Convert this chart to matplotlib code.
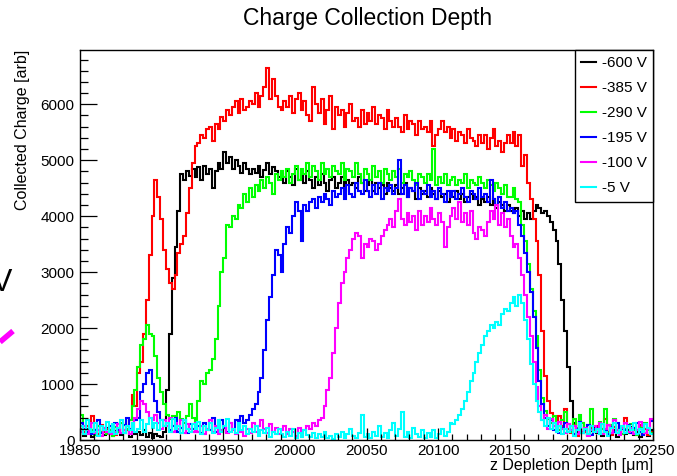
import numpy as np
import matplotlib
matplotlib.use("Agg")
import matplotlib.pyplot as plt
from matplotlib.lines import Line2D

plt.rcParams['font.family'] = ['Liberation Sans', 'DejaVu Sans']

# Histogram binning along the depth axis (2 um bins)
x_min, x_max, bin_width = 19850, 20250, 2
bin_edges = np.arange(x_min, x_max + bin_width, bin_width)

bias_labels = ["-600 V", "-385 V", "-290 V", "-195 V", "-100 V", "-5 V"]
bias_colors = ["#000000", "#ff0000", "#00ff00", "#0000ff", "#ff00ff", "#00ffff"]

charge_600V = [
    150, 80, 200, 120, 60, 180, 100, 140, 90, 210,
    120, 70, 160, 200, 90, 130, 180, 60, 150, 110,
    140, 90, 170, 60, 120, 40, 100, 80, 60, 150,
    900, 1900, 2900, 3450, 4100, 4750, 4650, 4800, 4720, 4850,
    4700, 4880, 4650, 4900, 4750, 4850, 4500, 4800, 4950, 4850,
    5150, 4950, 5050, 4850, 5000, 4900, 4780, 4950, 4850, 4750,
    4850, 4780, 4900, 4700, 4820, 4950, 4750, 4880, 4800, 4700,
    4750, 4600, 4800, 4700, 4550, 4850, 4650, 4750, 4600, 4800,
    4650, 4500, 4700, 4550, 4750, 4600, 4450, 4650, 4700, 4500,
    4600, 4700, 4450, 4650, 4550, 4600, 4500, 4700, 4600, 4450,
    4550, 4650, 4450, 4600, 4500, 4550, 4400, 4600, 4500, 4450,
    4550, 4400, 4500, 4600, 4350, 4500, 4450, 4300, 4500, 4400,
    4450, 4350, 4500, 4400, 4300, 4450, 4350, 4400, 4250, 4400,
    4350, 4450, 4300, 4400, 4250, 4350, 4400, 4300, 4350, 4200,
    4300, 4250, 4350, 4200, 4300, 4150, 4250, 4200, 4100, 4200,
    4100, 4050, 4150, 4000, 4100, 3950, 4050, 3950, 4100, 4200,
    4150, 4050, 4100, 4000, 3900, 3750, 3550, 3150, 2500, 1950,
    1300, 700, 300, 150, 250, 120, 200, 90, 160, 230,
    120, 200, 80, 150, 260, 100, 180, 60, 140, 220,
    100, 170, 240, 90, 150, 60, 200, 130, 80, 170,
]

charge_385V = [
    200, 150, 250, 120, 420, 180, 100, 260, 150, 200,
    140, 230, 90, 180, 300, 260, 180, 350, 800, 600,
    1200, 1400, 1900, 2500, 3300, 4000, 4650, 4350, 3950, 3400,
    3050, 2800, 2700, 2950, 3350, 3500, 3650, 4050, 4500, 4950,
    5250, 5300, 5450, 5400, 5550, 5600, 5350, 5650, 5550, 5780,
    5700, 5900, 5800, 5950, 6050, 5850, 6100, 5900, 5950, 6050,
    6000, 6200, 5950, 6150, 6300, 6650, 6100, 6450, 6150, 5950,
    5900, 6050, 5950, 6150, 5850, 6100, 6200, 5900, 6050, 5800,
    5700, 6300, 6000, 5850, 6100, 5650, 5900, 6150, 5550, 5950,
    5800, 5900, 5600, 5850, 6000, 5700, 5750, 5600, 5900, 5650,
    5850, 5700, 5950, 5650, 5800, 5750, 5550, 5900, 5700, 5600,
    5750, 5600, 5500, 5800, 5550, 5700, 5650, 5450, 5700, 5550,
    5600, 5500, 5700, 5250, 5450, 5550, 5700, 5500, 5600, 5400,
    5550, 5350, 5500, 5450, 5300, 5550, 5400, 5350, 5250, 5450,
    5300, 5450, 5200, 5400, 5550, 5250, 5350, 5150, 5300, 5450,
    5300, 5500, 5250, 5450, 4900, 5100, 4600, 4300, 3950, 3550,
    2950, 1950, 1150, 700, 480, 300, 200, 420, 250, 550,
    200, 120, 260, 80, 180, 300, 140, 90, 220, 160,
    250, 110, 190, 380, 140, 90, 230, 170, 120, 200,
    390, 150, 220, 100, 180, 260, 130, 200, 90, 150,
]

charge_290V = [
    450, 200, 120, 300, 180, 90, 250, 140, 200, 110,
    170, 80, 230, 150, 300, 120, 200, 350, 600, 900,
    1300, 1700, 1800, 2050, 1900, 1850, 1500, 1100, 850, 650,
    450, 380, 420, 350, 500, 380, 300, 420, 650, 400,
    300, 700, 1050, 1000, 1200, 1250, 1450, 1800, 2400, 3000,
    3250, 3850, 3800, 4000, 3950, 4200, 4150, 4400, 4250, 4500,
    4350, 4550, 4450, 4650, 4500, 4700, 4600, 4400, 4750, 4650,
    4800, 4700, 4850, 4600, 4750, 4900, 4650, 4850, 4750, 4950,
    4700, 4900, 4800, 4650, 4950, 4750, 4850, 4700, 4900, 4800,
    4750, 4950, 4650, 4850, 4800, 4700, 4950, 4750, 4600, 4850,
    4750, 4650, 4900, 4700, 4800, 4600, 4850, 4750, 4650, 4800,
    4700, 4850, 4600, 4750, 4700, 4800, 4650, 4550, 4750, 4700,
    4600, 4750, 4650, 5200, 4550, 4700, 4600, 4750, 4550, 4650,
    4700, 4550, 4650, 4600, 4750, 4500, 4650, 4600, 4550, 4700,
    4600, 4500, 4650, 4550, 4450, 4600, 4500, 4400, 4550, 4350,
    4350, 4500, 4300, 4250, 3850, 3550, 3150, 2700, 2300, 1850,
    1250, 750, 520, 380, 300, 420, 250, 180, 350, 500,
    280, 150, 380, 220, 450, 300, 180, 260, 550, 200,
    150, 320, 200, 550, 130, 260, 380, 170, 240, 100,
    200, 130, 280, 170, 90, 240, 150, 310, 180, 120,
]

charge_195V = [
    300, 200, 150, 250, 100, 180, 350, 120, 220, 150,
    250, 130, 300, 180, 120, 260, 400, 200, 150, 350,
    400, 850, 1000, 1200, 1250, 1000, 700, 500, 350, 250,
    300, 180, 250, 400, 150, 220, 350, 120, 280, 200,
    150, 250, 120, 300, 200, 180, 400, 150, 250, 350,
    220, 150, 300, 200, 350, 250, 420, 300, 350, 450,
    550, 650, 850, 1100, 1600, 2150, 2550, 2950, 3400, 3300,
    3000, 3500, 3800, 3700, 4000, 4250, 4100, 3550, 4200, 4100,
    4250, 4300, 4150, 4350, 4250, 4400, 4300, 4200, 4450, 4350,
    4400, 4500, 4300, 4550, 4400, 4350, 4600, 4450, 4400, 4650,
    4450, 4350, 4550, 4400, 4600, 4300, 4500, 4450, 4550, 4400,
    4500, 5000, 4400, 4550, 4350, 4500, 4450, 4600, 4300, 4450,
    4400, 4550, 4350, 4450, 4300, 4500, 4400, 4250, 4450, 4350,
    4450, 4300, 4400, 4500, 4350, 4250, 4450, 4400, 4300, 4500,
    4350, 4400, 4250, 4650, 4300, 4200, 4350, 4150, 4250, 4100,
    4150, 4050, 4100, 3850, 3650, 3350, 3000, 2650, 2200, 1650,
    1050, 650, 400, 250, 350, 180, 280, 120, 220, 300,
    150, 250, 100, 200, 320, 130, 180, 260, 90, 200,
    220, 120, 280, 170, 100, 240, 150, 300, 130, 200,
    170, 260, 120, 210, 310, 150, 90, 280, 200, 340,
]

charge_100V = [
    150, 250, 100, 200, 300, 120, 180, 80, 220, 150,
    100, 200, 150, 280, 120, 180, 250, 100, 300, 400,
    550, 700, 650, 500, 400, 350, 450, 300, 200, 350,
    250, 400, 150, 300, 200, 350, 120, 280, 200, 150,
    300, 150, 250, 100, 200, 350, 150, 250, 100, 180,
    250, 120, 300, 180, 100, 220, 150, 80, 200, 120,
    300, 150, 250, 350, 200, 120, 280, 150, 220, 100,
    180, 250, 100, 200, 150, 80, 220, 130, 180, 250,
    200, 300, 250, 350, 400, 600, 900, 1100, 1550, 2000,
    2450, 2800, 3000, 3250, 3400, 3600, 3700, 3650, 3250, 3500,
    3450, 3600, 3550, 3400, 3500, 3650, 3750, 3850, 3950, 3800,
    4100, 4300, 3950, 3850, 4050, 3900, 4000, 3750, 4100, 3850,
    4000, 3900, 4150, 3950, 3850, 4050, 3900, 3450, 3800, 4000,
    4150, 3950, 4250, 3900, 4050, 3850, 4100, 3700, 3600, 3800,
    3750, 3650, 3900, 4100, 3950, 4200, 3850, 4050, 3800, 3950,
    3650, 3450, 3500, 3250, 2950, 2600, 2200, 1850, 1400, 950,
    600, 350, 450, 200, 380, 250, 150, 320, 200, 120,
    280, 180, 250, 100, 300, 150, 220, 80, 180, 250,
    150, 300, 100, 200, 260, 120, 350, 180, 90, 220,
    300, 150, 220, 100, 180, 320, 250, 130, 200, 380,
]

charge_5V = [
    250, 100, 350, 200, 150, 300, 80, 250, 180, 320,
    150, 280, 100, 220, 350, 130, 250, 180, 300, 150,
    200, 350, 150, 280, 400, 220, 300, 180, 350, 250,
    300, 150, 380, 200, 250, 120, 350, 200, 150, 280,
    200, 320, 100, 250, 180, 300, 120, 220, 350, 150,
    250, 380, 150, 200, 120, 300, 180, 250, 100, 200,
    150, 250, 80, 180, 120, 220, 60, 150, 100, 200,
    100, 50, 150, 80, 200, 40, 120, 60, 180, 90,
    50, 120, 30, 100, 60, 150, 40, 80, 20, 100,
    60, 150, 40, 100, 200, 80, 30, 120, 450, 60,
    100, 40, 150, 80, 250, 50, 120, 30, 180, 300,
    80, 200, 500, 60, 150, 30, 220, 100, 50, 180,
    40, 120, 60, 180, 30, 100, 200, 80, 150, 300,
    280, 350, 450, 550, 700, 850, 1050, 1200, 1400, 1550,
    1700, 1850, 1950, 2050, 2000, 2100, 2050, 2250, 2350, 2300,
    2450, 2550, 2400, 2600, 2450, 2150, 1800, 1350, 1000, 700,
    500, 350, 250, 400, 200, 300, 150, 250, 100, 200,
    150, 250, 80, 180, 300, 120, 200, 100, 250, 150,
    200, 100, 280, 150, 80, 220, 300, 120, 180, 250,
    120, 250, 180, 300, 100, 200, 150, 280, 220, 100,
]

series = [charge_600V, charge_385V, charge_290V, charge_195V, charge_100V, charge_5V]

W, H = 677, 476
fig = plt.figure(figsize=(W / 100, H / 100), dpi=100)
fig.patch.set_facecolor("white")

# axes frame in pixel terms
ax_l, ax_r, ax_t, ax_b = 80, 653, 50, 440
ax = fig.add_axes([ax_l / W, 1 - ax_b / H, (ax_r - ax_l) / W, (ax_b - ax_t) / H])

for vals, col, lab in zip(series, bias_colors, bias_labels):
    ax.stairs(vals, bin_edges, color=col, linewidth=1.5, baseline=None, label=lab)

ax.set_xlim(x_min, x_max)
ax.set_ylim(0, 6970)

ax.xaxis.set_major_locator(plt.MultipleLocator(50))
ax.xaxis.set_minor_locator(plt.MultipleLocator(10))
ax.yaxis.set_major_locator(plt.MultipleLocator(1000))
ax.yaxis.set_minor_locator(plt.MultipleLocator(200))
ax.tick_params(axis="both", which="both", direction="in", labelsize=11,
               top=False, right=False, width=0.9, colors="black")
ax.tick_params(axis="x", which="major", length=8.6, pad=3)
ax.tick_params(axis="x", which="minor", length=4.3)
ax.tick_params(axis="y", which="major", length=12, pad=4)
ax.tick_params(axis="y", which="minor", length=6)
for sp in ax.spines.values():
    sp.set_linewidth(1.0)
    sp.set_color("black")

ax.set_xlabel("z Depletion Depth [\u03bcm]", fontsize=11.5, loc="right")
ax.xaxis.set_label_coords(1.0, -0.045)
ax.set_ylabel("Collected Charge [arb]", fontsize=11.5, loc="top")
ax.yaxis.set_label_coords(-0.088, 1.0)

fig.text(0.543, 0.962, "Charge Collection Depth", ha="center", va="center", fontsize=16.5)

leg = ax.legend(loc="upper right", bbox_to_anchor=(1.0, 1.0), borderaxespad=0,
                fancybox=False, framealpha=1, edgecolor="black", fontsize=11,
                handlelength=1.0, handletextpad=0.35, labelspacing=0.72,
                borderpad=0.42)
leg.get_frame().set_linewidth(1.0)
for h in leg.legend_handles:
    h.set_linewidth(1.5)

# stray slide fragments at the left border
fig.text(-0.012, 1 - 283 / H, "V", fontsize=22, ha="left", va="center", color="black")
fig.add_artist(Line2D([0 / W, 13 / W], [1 - 342 / H, 1 - 331 / H], color="#ff00ff",
                      linewidth=4, solid_capstyle="butt"))

fig.savefig("out.png", dpi=100, facecolor="white")
